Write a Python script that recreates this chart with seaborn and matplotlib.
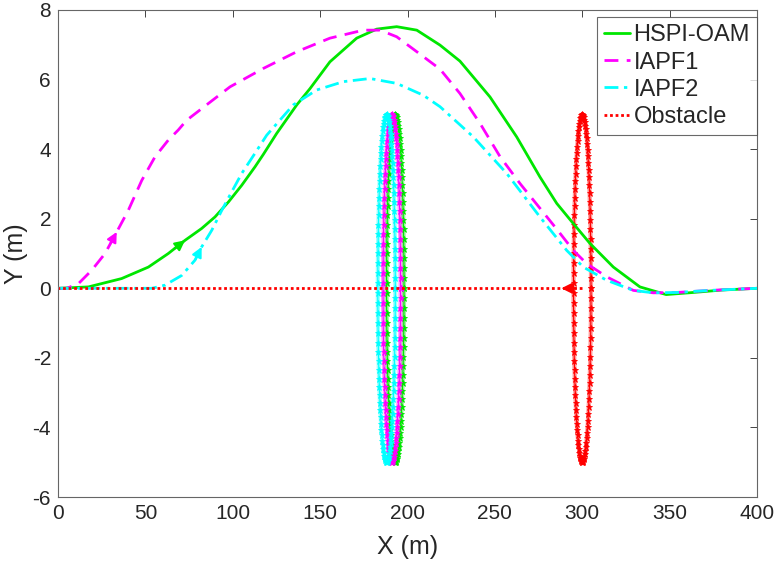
import numpy as np
import pandas as pd
import matplotlib
matplotlib.use('Agg')
import matplotlib.pyplot as plt
import seaborn as sns

# trajectory data
green_x = [0, 17.4, 36.4, 51.7, 63.1, 72.7, 82.2, 89.8, 97.5, 105.1, 112.7, 117.5, 125.1, 136.6,
           144.2, 155.6, 170.9, 182.4, 193.8, 205.3, 218.6, 230, 247.2, 262.5, 275.8, 285.4,
           294.9, 304.4, 317.8, 333, 348, 363.5, 380, 400]
green_y = [0, 0.04, 0.28, 0.61, 1.0, 1.38, 1.72, 2.05, 2.48, 2.96, 3.49, 3.85, 4.45, 5.27,
           5.74, 6.51, 7.19, 7.45, 7.52, 7.42, 6.99, 6.53, 5.5, 4.35, 3.2, 2.44,
           1.86, 1.29, 0.61, 0.04, -0.18, -0.12, -0.05, 0]

magenta_x = [0, 5, 11.6, 19.3, 26.9, 33.6, 40.2, 47.9, 55.5, 63.1, 68.8, 73.6, 87, 98.4, 117.5,
             136.6, 155.6, 174.7, 184.3, 193.8, 205.3, 218.6, 230, 241.5, 253, 264.4, 275.8,
             285.4, 294.9, 302.5, 314, 329.2, 340.6, 354, 373, 400]
magenta_y = [0, 0, 0.13, 0.52, 1.0, 1.62, 2.24, 3.1, 3.78, 4.26, 4.55, 4.83, 5.35, 5.79, 6.32,
             6.8, 7.19, 7.42, 7.42, 7.23, 6.8, 6.3, 5.6, 4.74, 3.78, 3.01, 2.3,
             1.7, 1.09, 0.71, 0.33, -0.06, -0.13, -0.12, -0.06, 0]

cyan_x = [0, 53.6, 61.2, 70.8, 78.4, 82.2, 88, 93.7, 98.4, 105.1, 112.7, 119.4, 134.6, 148,
          163.3, 178.5, 193.8, 209, 218.6, 237.7, 256.8, 275.8, 291.1, 300.6, 314, 329.2,
          340.6, 354, 373, 400]
cyan_y = [0, 0, 0.09, 0.37, 0.81, 1.19, 1.67, 2.24, 2.68, 3.3, 3.88, 4.4, 5.27, 5.7,
          5.94, 6.03, 5.89, 5.55, 5.22, 4.35, 3.3, 2.05, 1.09, 0.61, 0.23, -0.06,
          -0.13, -0.12, -0.06, 0]

# obstacle moving along y = 0 from x = 300 towards the origin
obs_path_x = [300, 288, 0]
obs_path_y = [0, 0, 0]

# obstacle circles: start position, then where each method met it
obs_centers = [300, 193, 191, 188]
obs_radius = 5
obs_colors = ['#ff0000', '#00e600', '#ff00ff', '#00ffff']

# index of the point where each direction arrow sits
arrow_idx = {'green': 5, 'magenta': 5, 'cyan': 5}

sns.set_theme(style='white')
plt.rcParams['font.family'] = ['Liberation Sans', 'DejaVu Sans']
plt.rcParams['axes.unicode_minus'] = False

fig = plt.figure(figsize=(7.78, 5.70), dpi=100)
ax = fig.add_axes([0.0746, 0.128, 0.8984, 0.8545])

# obstacle circles
theta = np.linspace(0, 2 * np.pi, 110)
for cx, col in zip(obs_centers, obs_colors):
    circ = pd.DataFrame({'x': cx + obs_radius * np.cos(theta),
                         'y': obs_radius * np.sin(theta)})
    ax.plot(circ['x'], circ['y'], color=col, lw=3, alpha=0.4, zorder=2)
    ax.plot(circ['x'], circ['y'], color=col, lw=0.8, marker='*', ms=5,
            mew=0.6, zorder=2)

green = pd.DataFrame({'x': green_x, 'y': green_y})
magenta = pd.DataFrame({'x': magenta_x, 'y': magenta_y})
cyan = pd.DataFrame({'x': cyan_x, 'y': cyan_y})
obs = pd.DataFrame({'x': obs_path_x, 'y': obs_path_y})

sns.lineplot(data=green, x='x', y='y', sort=False, estimator=None, color='#00e600',
             lw=2, label='HSPI-OAM', ax=ax, zorder=3)
sns.lineplot(data=magenta, x='x', y='y', sort=False, estimator=None, color='#ff00ff',
             lw=2, linestyle=(0, (5, 3)), label='IAPF1', ax=ax, zorder=3)
sns.lineplot(data=cyan, x='x', y='y', sort=False, estimator=None, color='#00ffff',
             lw=2, linestyle=(0, (5, 2, 1.2, 2)), label='IAPF2', ax=ax, zorder=3)
sns.lineplot(data=obs, x='x', y='y', sort=False, estimator=None, color='#ff0000',
             lw=2, linestyle=(0, (1, 1)), label='Obstacle', ax=ax, zorder=4)

ax.set_xlim(0, 400)
ax.set_ylim(-6, 8)
ax.set_xticks(np.arange(0, 401, 50))
ax.set_yticks(np.arange(-6, 9, 2))


def draw_arrow(df, k, col):
    p1 = ax.transData.transform((df['x'][k], df['y'][k]))
    p0 = ax.transData.transform((df['x'][k - 1], df['y'][k - 1]))
    d = (p1 - p0) / np.hypot(*(p1 - p0))
    ax.annotate('', xy=(df['x'][k], df['y'][k]), xytext=(-d[0] * 10, -d[1] * 10),
                textcoords='offset points',
                arrowprops=dict(arrowstyle='-|>', color=col, lw=1.5,
                                mutation_scale=15, shrinkA=0, shrinkB=0), zorder=5)


draw_arrow(green, arrow_idx['green'], '#00e600')
draw_arrow(magenta, arrow_idx['magenta'], '#ff00ff')
draw_arrow(cyan, arrow_idx['cyan'], '#00ffff')
draw_arrow(obs, 1, '#ff0000')

ax.set_xlabel('X (m)', fontsize=18, color='#262626', labelpad=9)
ax.set_ylabel('Y (m)', fontsize=18, color='#262626', labelpad=3)
ax.tick_params(direction='in', length=5, width=0.6, colors='#262626', labelsize=15,
               top=True, right=True, pad=5)
for s in ax.spines.values():
    s.set_color('#666666')
    s.set_linewidth(0.8)

leg = ax.legend(loc='upper right', bbox_to_anchor=(1.0, 0.985), borderaxespad=0,
                fontsize=17, frameon=True, fancybox=False, edgecolor='#444444',
                handlelength=1.1, handletextpad=0.15, labelspacing=0.22, borderpad=0.3)
leg.get_frame().set_linewidth(0.8)

fig.savefig('out.png', dpi=100)
